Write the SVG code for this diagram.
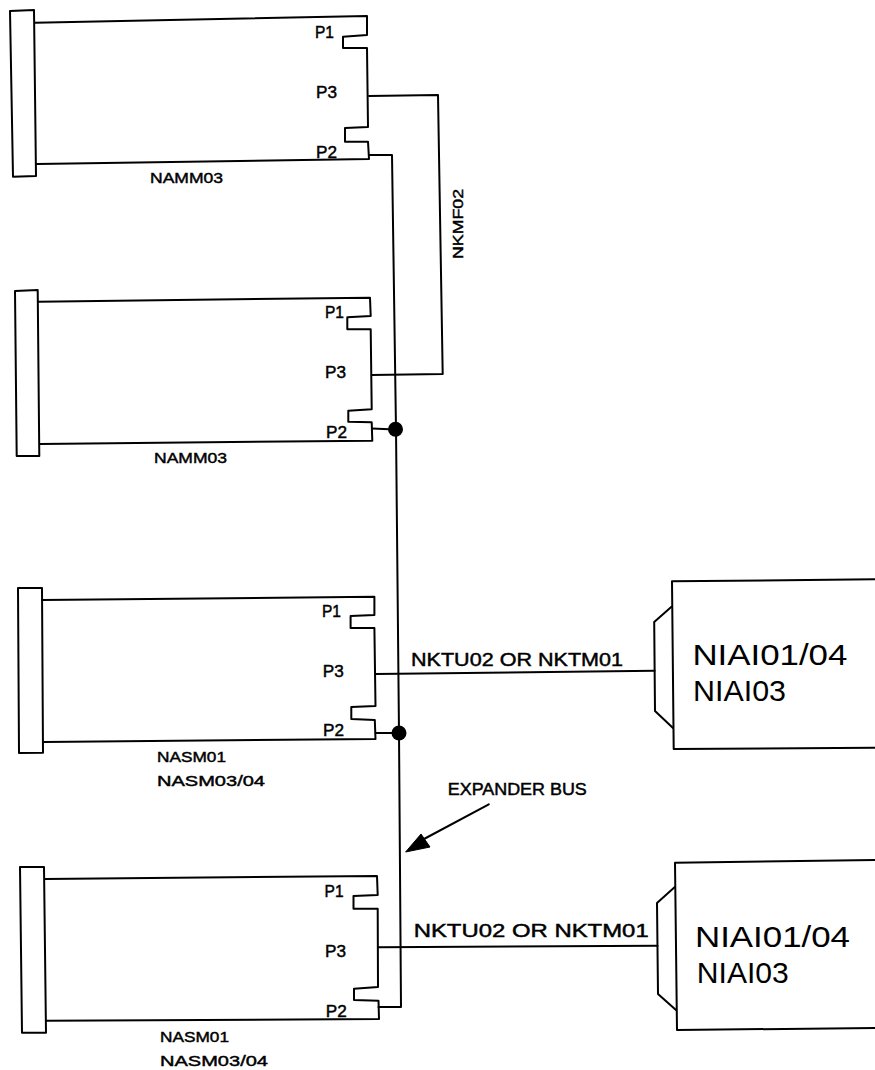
<svg xmlns="http://www.w3.org/2000/svg" width="875" height="1070" viewBox="0 0 875 1070">
<style>
.l{fill:none;stroke:#000;stroke-width:2;stroke-linejoin:round;stroke-linecap:round}
.t{font-family:"Liberation Sans",Arial,sans-serif;fill:#000;stroke:#000;stroke-width:.45}
.p{font-size:16.5px}
.n{font-size:15.5px}
.w{font-size:18.5px}
.e{font-size:16px}
.b{font-size:30px;stroke:none}
</style>
<rect width="875" height="1070" fill="#fff"/>
<g id="connectors">
<path class="l" d="M369 96L438 95L442.7 374L371.7 375"/>
<path class="l" d="M369 155L392 155L396 429L399 733L401 1007L378.5 1007"/>
<path class="l" d="M372 428.5L395 429.5"/>
<path class="l" d="M375.5 733L399 733"/>
<circle cx="395.5" cy="429.3" r="7.5" fill="#000"/>
<circle cx="399" cy="733" r="7.5" fill="#000"/>
<path class="l" d="M375.5 674L654.6 670.7"/>
<path class="l" d="M378.5 947.3L657.5 945.7"/>
<path class="l" d="M488.8 804.3L424 839"/>
<path d="M405.6 852L421 834L430 847Z" fill="#000" stroke="#000" stroke-linejoin="round"/>
</g>
<g id="namm03-1">
<path class="l" d="M10 11L34 10L36 176L13 176.7Z"/>
<path class="l" d="M35 22.7L367 16L367 35L343 36.7L343 48L367 48L368 127L345 128L345 141.7L368 141.7L369 159L37 164"/>
<text class="t p" x="315" y="38" textLength="19" lengthAdjust="spacingAndGlyphs">P1</text>
<text class="t p" x="316" y="98" textLength="21" lengthAdjust="spacingAndGlyphs">P3</text>
<text class="t p" x="316" y="158" textLength="21" lengthAdjust="spacingAndGlyphs">P2</text>
<text class="t n" x="150" y="183" textLength="73" lengthAdjust="spacingAndGlyphs">NAMM03</text>
</g>
<text id="nkmf02" class="t n" transform="translate(463 259) rotate(-90)" textLength="70" lengthAdjust="spacingAndGlyphs">NKMF02</text>
<g id="namm03-2">
<path class="l" d="M15 291L37.7 290L39.3 456L16.7 456Z"/>
<path class="l" d="M38.3 301.7L370 297.7L370.7 316L347.3 317.3L347.3 329.3L370.7 329.3L371.7 409.3L348.3 410.7L348.3 421.7L371.7 422.3L372.3 440.7L40 444"/>
<text class="t p" x="325" y="318" textLength="19" lengthAdjust="spacingAndGlyphs">P1</text>
<text class="t p" x="325" y="378" textLength="21" lengthAdjust="spacingAndGlyphs">P3</text>
<text class="t p" x="326" y="438" textLength="21" lengthAdjust="spacingAndGlyphs">P2</text>
<text class="t n" x="154" y="463" textLength="73" lengthAdjust="spacingAndGlyphs">NAMM03</text>
</g>
<g id="nasm-1">
<path class="l" d="M18 588L42 588L43 752.7L19 753Z"/>
<path class="l" d="M42 600L374.4 596.7L374.4 615L350.6 616L350.6 628L374.4 628L375.5 706L351.3 707L351.3 719L374.8 720L375.5 739L44 742"/>
<text class="t p" x="322" y="617" textLength="19" lengthAdjust="spacingAndGlyphs">P1</text>
<text class="t p" x="322.7" y="676.7" textLength="21" lengthAdjust="spacingAndGlyphs">P3</text>
<text class="t p" x="323" y="735.7" textLength="21" lengthAdjust="spacingAndGlyphs">P2</text>
<text class="t n" x="157" y="761.7" textLength="69" lengthAdjust="spacingAndGlyphs">NASM01</text>
<text class="t n" x="157" y="786" textLength="108" lengthAdjust="spacingAndGlyphs">NASM03/04</text>
</g>
<g id="nasm-2">
<path class="l" d="M20 867L44 867L46 1032.7L22 1032.7Z"/>
<path class="l" d="M45 879L377 876L377.7 895L353.5 896L353.5 908.7L377.7 908.7L378 987L354 988.7L354 1000L378.5 1000.7L379 1019L46 1020.7"/>
<text class="t p" x="324.6" y="897" textLength="19" lengthAdjust="spacingAndGlyphs">P1</text>
<text class="t p" x="325" y="956.7" textLength="21" lengthAdjust="spacingAndGlyphs">P3</text>
<text class="t p" x="325.7" y="1016.7" textLength="21" lengthAdjust="spacingAndGlyphs">P2</text>
<text class="t n" x="160" y="1041.7" textLength="69" lengthAdjust="spacingAndGlyphs">NASM01</text>
<text class="t n" x="160" y="1065.7" textLength="108" lengthAdjust="spacingAndGlyphs">NASM03/04</text>
</g>
<g id="niai-1">
<path class="l" d="M875 579.3L672 581.3L673.7 749L875 747.7"/>
<path class="l" d="M671.5 606.7L654.2 622L655 711L673 728"/>
<text class="t b" x="692.4" y="665" textLength="155" lengthAdjust="spacingAndGlyphs">NIAI01/04</text>
<text class="t b" x="693" y="700.7" textLength="93" lengthAdjust="spacingAndGlyphs">NIAI03</text>
</g>
<g id="niai-2">
<path class="l" d="M875 860L675 862.7L677 1030L875 1028"/>
<path class="l" d="M674.8 887L657 903L658 994L676 1010"/>
<text class="t b" x="695" y="946.7" textLength="155" lengthAdjust="spacingAndGlyphs">NIAI01/04</text>
<text class="t b" x="696.8" y="983" textLength="92" lengthAdjust="spacingAndGlyphs">NIAI03</text>
</g>
<text class="t w" x="411" y="666" textLength="212" lengthAdjust="spacingAndGlyphs">NKTU02 OR NKTM01</text>
<text class="t w" x="413.7" y="937" textLength="235" lengthAdjust="spacingAndGlyphs">NKTU02 OR NKTM01</text>
<text class="t e" x="447.8" y="795" textLength="139" lengthAdjust="spacingAndGlyphs">EXPANDER BUS</text>
</svg>
